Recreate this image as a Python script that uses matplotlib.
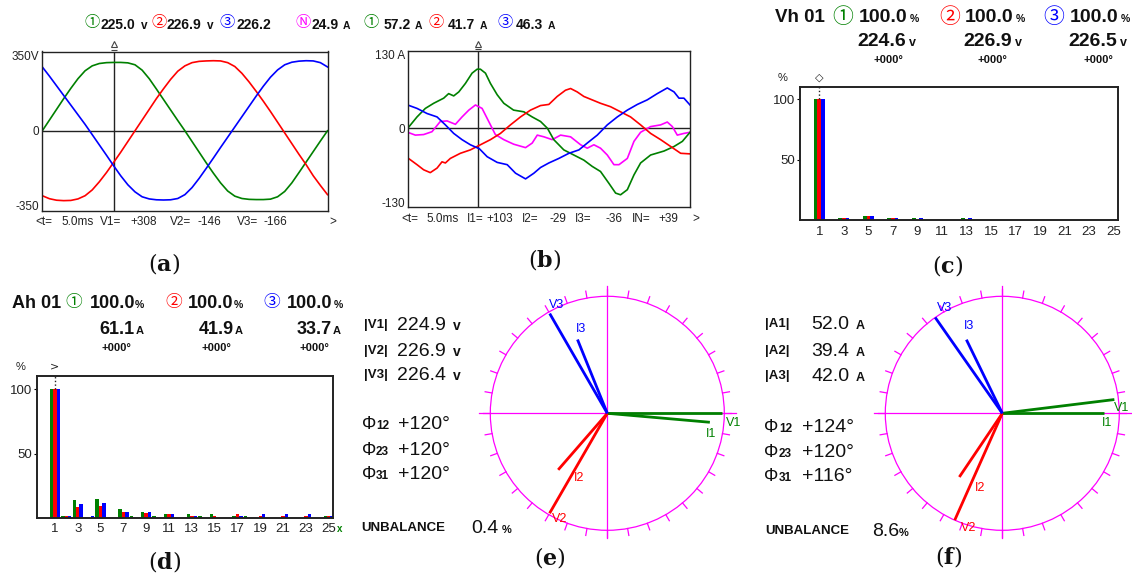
import numpy as np
import matplotlib
matplotlib.use('Agg')
import matplotlib.pyplot as plt
from matplotlib.patches import Circle
from matplotlib.transforms import blended_transform_factory

W, H = 1132, 581

GREEN = '#008000'
RED = '#ff0000'
BLUE = '#0000ff'
MAGENTA = '#ff00ff'
INK = '#111111'

SANS = ['Liberation Sans', 'DejaVu Sans']
RINGS = ['Noto Sans CJK JP', 'DejaVu Sans']

plt.rcParams['font.family'] = SANS
plt.rcParams['mathtext.fontset'] = 'dejavuserif'

# (a) phase voltages over one cycle (ms, V)
t_v = [0, 0.5, 1, 1.5, 2, 2.5, 3, 3.5, 4, 4.5, 5, 5.5, 6, 6.5, 7, 7.5, 8, 8.5, 9, 9.5,
       10, 10.5, 11, 11.5, 12, 12.5, 13, 13.5, 14, 14.5, 15, 15.5, 16, 16.5, 17, 17.5,
       18, 18.5, 19, 19.5, 20]
v1 = [0, 50, 100, 150, 198, 243, 280, 303, 314, 318, 319, 319, 317, 308, 283, 243,
      195, 146, 97, 48, 0, -50, -100, -150, -198, -243, -281, -305, -316, -320, -321,
      -321, -319, -308, -283, -243, -195, -146, -97, -48, 0]
v2 = [-303, -317, -324, -326, -325, -318, -303, -276, -238, -195, -148, -100, -50, 0,
      50, 100, 150, 196, 240, 278, 303, 318, 324, 326, 327, 326, 318, 300, 268, 228,
      184, 138, 90, 40, -10, -60, -110, -158, -210, -255, -298]
v3 = [298, 255, 210, 165, 120, 75, 30, -18, -66, -114, -163, -210, -252, -285, -308,
      -318, -322, -323, -322, -316, -298, -265, -222, -175, -127, -78, -30, 18, 66,
      114, 162, 208, 250, 284, 308, 320, 325, 327, 326, 318, 298]
v_rms = ['225.0', '226.9', '226.2']
v_cursor = ['+308', '-146', '-166']

# (b) line and neutral currents (ms, A)
t_i1 = [0, 0.66, 1.25, 1.84, 2.55, 2.9, 3.26, 3.62, 4.09, 4.56, 4.92, 5.15, 5.51, 5.86,
        6.34, 6.81, 7.5, 8.23, 8.82, 9.41, 9.9, 10.35, 11.06, 11.77, 12.48, 13.07,
        13.66, 14.26, 14.73, 15.08, 15.56, 16.03, 16.5, 17.21, 18.16, 18.87, 19.46, 20]
i1 = [0, 20, 35, 44, 53, 61, 57, 64, 79, 97, 104, 104, 97, 79, 59, 44, 32, 29, 20, 12,
      0, -20, -38, -47, -56, -67, -76, -97, -114, -117, -108, -82, -61, -47, -40, -32,
      -23, -7]
t_i2 = [0, 0.66, 1.13, 1.6, 2.08, 2.43, 2.67, 3.02, 3.73, 4.44, 5.15, 5.86, 6.57, 7.28,
        7.99, 8.7, 9.41, 10.0, 10.59, 11.18, 11.54, 12.01, 12.48, 13.07, 13.66, 14.37,
        15.08, 15.79, 16.5, 17.21, 17.92, 18.63, 19.34, 20]
i2 = [-52, -64, -73, -78, -70, -59, -61, -53, -44, -38, -29, -20, -9, 6, 20, 32, 40, 42,
      56, 67, 70, 64, 56, 50, 44, 38, 29, 20, 6, -9, -20, -32, -44, -45]
t_i3 = [0, 0.66, 1.37, 2.08, 2.67, 3.26, 3.85, 4.44, 5.08, 5.63, 6.34, 7.05, 7.64, 8.35,
        8.94, 9.41, 10.0, 10.71, 11.42, 12.13, 12.72, 13.43, 14.14, 14.85, 15.56, 16.27,
        16.97, 17.68, 18.39, 18.87, 19.22, 19.57, 20]
i3 = [41, 35, 26, 20, 6, -9, -20, -29, -36, -50, -60, -64, -79, -89, -79, -69, -61, -53,
      -44, -38, -26, -12, 6, 20, 32, 42, 50, 61, 71, 64, 53, 53, 41]
t_in = [0, 0.54, 1.13, 1.72, 2.31, 2.79, 3.38, 3.85, 4.33, 4.8, 5.27, 5.74, 6.21, 6.81,
        7.51, 8.35, 8.82, 9.18, 9.65, 10.24, 10.83, 11.54, 12.25, 12.72, 13.19, 13.66,
        14.14, 14.61, 14.97, 15.56, 16.03, 16.5, 17.21, 17.92, 18.39, 18.75, 19.1,
        19.57, 20]
i_n = [-7, -12, -11, -6, 12, 13, 7, 20, 32, 41, 35, 12, -11, -20, -28, -34, -26, -12,
       -15, -20, -12, -15, -29, -35, -29, -35, -47, -64, -64, -53, -23, -7, 3, 6, 11, 3,
       -12, -9, -7]
i_rms = ['24.9', '57.2', '41.7', '46.3']   # N, 1, 2, 3
i_cursor = ['+103', '-29', '-36', '+39']   # I1, I2, I3, IN

# (c), (d) harmonic spectra, % of fundamental
harm = [1, 2, 3, 4, 5, 6, 7, 8, 9, 10, 11, 12, 13, 14, 15, 16, 17, 18, 19, 20, 21, 22,
        23, 24, 25]
vh_1 = [100, 0, 1.9, 0, 3.9, 0, 1.9, 0, 1.9, 0, 0, 0, 1.9, 0, 0, 0, 0, 0, 0, 0, 0, 0, 0, 0, 0]
vh_2 = [100, 0, 1.9, 0, 3.9, 0, 1.9, 0, 0, 0, 0, 0, 0, 0, 0, 0, 0, 0, 0, 0, 0, 0, 0, 0, 0]
vh_3 = [100, 0, 1.9, 0, 3.9, 0, 1.9, 0, 1.9, 0, 0, 0, 1.9, 0, 0, 0, 0, 0, 0, 0, 0, 0, 0, 0, 0]
vh_rms = ['224.6', '226.9', '226.5']
ah_1 = [100, 1.6, 13.8, 0, 14.8, 0, 6.5, 1.6, 4.4, 1.6, 2.6, 0, 2.6, 1.6, 2.6, 0, 1.6,
        1.6, 0, 0, 0, 0, 0, 0, 1.6]
ah_2 = [100, 1.6, 8.6, 0, 8.8, 0, 4.4, 0, 3.4, 0, 2.6, 0, 1.6, 0, 1.6, 0, 2.6, 0, 1.6,
        0, 1.6, 0, 1.6, 0, 1.6]
ah_3 = [100, 1.6, 10.7, 1.6, 11.7, 0, 4.4, 0, 4.4, 0, 2.6, 0, 1.6, 0, 0, 0, 1.6, 0, 2.6,
        0, 2.6, 0, 2.6, 0, 1.6]
ah_rms = ['61.1', '41.9', '33.7']

# (e) voltage phasors
e_vmag = [224.9, 226.9, 226.4]
e_phi = [120, 120, 120]
e_iang = [-5, 229, 112]
e_ilen = [0.88, 0.64, 0.68]
e_unbal = '0.4'
# (f) current phasors
f_amag = [52.0, 39.4, 42.0]
f_phi = [124, 120, 116]
f_vang = [7, 246, 125]
f_vlen = [0.965, 1.0, 1.0]
f_unbal = '8.6'

phase_colors = [GREEN, RED, BLUE]

fig = plt.figure(figsize=(W / 100, H / 100), dpi=100)


def px_axes(l, t, r, b):
    return fig.add_axes([l / W, 1 - b / H, (r - l) / W, (b - t) / H])


def put(x, y, s, size=9, weight='normal', color=INK, family=SANS, ha='left', va='baseline'):
    fig.text(x / W, 1 - y / H, s, fontsize=size, fontweight=weight, color=color,
             family=family, ha=ha, va=va)


def ring(x, y, s, color, size=11):
    put(x, y, s, size=size, color=color, family=RINGS, ha='center', va='center')


def scope(ax, ylim, ticks, labels):
    ax.set_xlim(0, 20)
    ax.set_ylim(*ylim)
    ax.set_xticks([])
    ax.set_yticks(ticks)
    ax.set_yticklabels(labels, fontsize=8.5, color='#222')
    ax.tick_params(axis='y', length=0, pad=2)
    for s in ax.spines.values():
        s.set_color('#222')
        s.set_linewidth(1)
    ax.axhline(0, color='#222', lw=1)
    ax.axvline(5, color='#222', lw=1)
    tr = blended_transform_factory(ax.transData, ax.transAxes)
    ax.plot([5], [1.045], marker='^', ms=4.5, mfc='none', mec='#444', mew=0.8,
            transform=tr, clip_on=False)
    ax.plot([5], [1.012], marker='_', ms=5, mec='#444', mew=0.8, transform=tr,
            clip_on=False)


def spectrum(ax, g, r, b, top, mark):
    hx = np.array(harm)
    w = 0.3
    ax.bar(hx - w, g, w, color=GREEN, linewidth=0)
    ax.bar(hx, r, w, color=RED, linewidth=0)
    ax.bar(hx + w, b, w, color=BLUE, linewidth=0)
    ax.set_xlim(-0.6, 25.35)
    ax.set_ylim(0, top)
    ax.set_xticks(harm[::2])
    ax.set_xticklabels([str(h) for h in harm[::2]], fontsize=9.5, color='#222')
    ax.set_yticks([50, 100])
    ax.set_yticklabels(['50', '100'], fontsize=9.5, color='#222')
    ax.tick_params(axis='x', length=0, pad=4)
    ax.tick_params(axis='y', length=2.5, width=0.8, pad=0.5)
    for s in ax.spines.values():
        s.set_color('#222')
        s.set_linewidth(1.4)
    ax.plot([1, 1], [100, top], ls=':', color='#222', lw=1)
    tr = blended_transform_factory(ax.transData, ax.transAxes)
    ax.text(1, 1.03, mark, transform=tr, ha='center', va='bottom', fontsize=8,
            color='#222', family=['DejaVu Sans'])
    ax.text(-0.055, 1.03, '%', transform=ax.transAxes, ha='center', va='bottom',
            fontsize=8, color='#222')


def phasor_axes(cx, cy, r_px):
    half = 1.25 * r_px
    ax = px_axes(cx - half, cy - half, cx + half, cy + half)
    ax.set_xlim(-1.25, 1.25)
    ax.set_ylim(-1.25, 1.25)
    ax.axis('off')
    ax.patch.set_alpha(0)
    ax.add_patch(Circle((0, 0), 1.0, fill=False, ec=MAGENTA, lw=0.9))
    ax.plot([-1.1, 1.1], [0, 0], color=MAGENTA, lw=0.9)
    ax.plot([0, 0], [-1.07, 1.09], color=MAGENTA, lw=0.9)
    for a in np.radians(np.arange(0, 360, 10)):
        ax.plot([np.cos(a), 1.06 * np.cos(a)], [np.sin(a), 1.06 * np.sin(a)],
                color=MAGENTA, lw=0.9)
    return ax


def vector(ax, ang, length, color, label, off):
    a = np.radians(ang)
    x, y = length * np.cos(a), length * np.sin(a)
    ax.plot([0, x], [0, y], color=color, lw=2, solid_capstyle='butt')
    ax.text(x + off[0], y + off[1], label, color=color, fontsize=9,
            ha='center', va='center')


# ---------------- (a) voltage waveforms
ax_a = px_axes(42.3, 51.5, 327.5, 210.5)
scope(ax_a, (-372, 370), [350, 0, -350], ['350V', '0', '-350'])
for tv, col in zip([v1, v2, v3], phase_colors):
    ax_a.plot(t_v, tv, color=col, lw=1.2)

for (xc, xn, xu), val, col, ch in zip([(92, 135, 144), (159, 201.7, 210.7), (227.5, 270.7, None)],
                                    v_rms, phase_colors, ['\u2460', '\u2461', '\u2462']):
    ring(xc, 23, ch, col)
    put(xn, 29, val, size=10, weight='bold', ha='right')
    if xu:
        put(xu, 29, 'v', size=8.5, weight='bold', ha='center')

put(35, 225, '<t=', size=8.5, color='#222')
put(61, 225, '5.0ms', size=8.5, color='#222')
for xl, xv, name, val in zip([100, 170, 237], [130, 197, 263], ['V1=', 'V2=', 'V3='], v_cursor):
    put(xl, 225, name, size=8.5, color='#222')
    put(xv, 225, val, size=8.5, color='#222')
put(329, 225, '>', size=8.5, color='#222')

# ---------------- (b) current waveforms
ax_b = px_axes(407.7, 51, 690, 207.3)
scope(ax_b, (-139, 136), [130, 0, -130], ['130 A', '0', '-130'])
ax_b.plot(t_in, i_n, color=MAGENTA, lw=1.2)
ax_b.plot(t_i1, i1, color=GREEN, lw=1.2)
ax_b.plot(t_i2, i2, color=RED, lw=1.2)
ax_b.plot(t_i3, i3, color=BLUE, lw=1.2)

for (xc, xn, xu), val, col, ch in zip([(302.7, 339, 346.7), (370.7, 410.5, 418.3),
                                      (436, 475.5, 483.3), (505, 543.5, 551.7)],
                                     i_rms, [MAGENTA, GREEN, RED, BLUE],
                                     ['\u24c3', '\u2460', '\u2461', '\u2462']):
    ring(xc, 23, ch, col)
    put(xn, 29, val, size=10, weight='bold', ha='right')
    put(xu, 29, 'A', size=7.5, weight='bold', ha='center')

put(401.7, 222, '<t=', size=8.5, color='#222')
put(426, 222, '5.0ms', size=8.5, color='#222')
for xl, xv, name, val in zip([466.7, 521.7, 575, 631.7], [486.7, 550, 605, 658.3],
                             ['I1=', 'I2=', 'I3=', 'IN='], i_cursor):
    put(xl, 222, name, size=8.5, color='#222')
    put(xv, 222, val, size=8.5, color='#222')
put(692, 222, '>', size=8.5, color='#222')

# ---------------- (c) voltage harmonics
ax_c = px_axes(799.7, 87, 1118, 220.3)
spectrum(ax_c, vh_1, vh_2, vh_3, 110.2, '\u25c7')
put(775, 22.5, 'Vh 01', size=13.5, weight='bold')
for xc, xn, xp, xv, xu, xd, val, col, ch in zip(
        [842.7, 949.3, 1053.3], [858.3, 965, 1070], [914, 1020.7, 1125.7],
        [857.3, 963.3, 1068.3], [912.3, 1018.3, 1123.3], [873.3, 977.7, 1083.3],
        vh_rms, phase_colors, ['\u2460', '\u2461', '\u2462']):
    ring(xc, 17, ch, col, size=15)
    put(xn, 22.5, '100.0', size=14, weight='bold')
    put(xp, 22.5, '%', size=7.5, weight='bold', ha='center')
    put(xv, 46.5, val, size=14, weight='bold')
    put(xu, 46.5, 'v', size=9, weight='bold', ha='center')
    put(xd, 60, '+000\u00b0', size=8, weight='bold', va='center')

# ---------------- (d) current harmonics
ax_d = px_axes(36.7, 376, 332.7, 517.7)
spectrum(ax_d, ah_1, ah_2, ah_3, 110.4, '>')
put(340, 529.5, 'x', size=7, weight='bold', color=GREEN, ha='center', va='center')
put(11.7, 308.5, 'Ah 01', size=13, weight='bold')
for xc, xn, xp, xv, xu, xd, val, col, ch in zip(
        [74, 173.3, 271.7], [90, 188.3, 286.7], [139.3, 238.3, 338.3],
        [99.3, 198.3, 296.7], [140, 238.3, 336.7], [101.7, 201, 300],
        ah_rms, phase_colors, ['\u2460', '\u2461', '\u2462']):
    ring(xc, 303, ch, col, size=12)
    put(xn, 308.5, '100.0', size=13, weight='bold')
    put(xp, 308.5, '%', size=7.5, weight='bold', ha='center')
    put(xv, 334, val, size=13, weight='bold')
    put(xu, 334, 'A', size=8, weight='bold', ha='center')
    put(xd, 348.3, '+000\u00b0', size=8, weight='bold', va='center')

# ---------------- (e) voltage phasor diagram
ax_e = phasor_axes(607.3, 413.3, 117)
e_vang = [0, -e_phi[0], -e_phi[0] - e_phi[1]]
for k in range(3):
    vector(ax_e, e_iang[k], e_ilen[k], phase_colors[k], 'I%d' % (k + 1),
           [(0.01, -0.10), (0.18, -0.07), (0.03, 0.09)][k])
    vector(ax_e, e_vang[k], e_vmag[k] / 230, phase_colors[k], 'V%d' % (k + 1),
           [(0.10, -0.08), (0.09, -0.05), (0.06, 0.075)][k])

for k, y in enumerate([324, 350, 374]):
    put(388, y + 4, '|V%d|' % (k + 1), size=9.5, weight='bold', ha='right')
    put(396.7, y + 6, '%.1f' % e_vmag[k], size=14)
    put(457.3, y + 6, 'v', size=10, weight='bold', ha='center')
for k, y in enumerate([423.3, 449, 473.3]):
    put(369.5, y + 6, '\u03a6', size=13, ha='center')
    put(376, y + 6, ['12', '23', '31'][k], size=8.5, weight='bold')
    put(398.3, y + 6, '+%d\u00b0' % e_phi[k], size=14)
put(445, 531, 'UNBALANCE', size=9.5, weight='bold', ha='right')
put(471.7, 533, e_unbal, size=14)
put(506.7, 533, '%', size=8, weight='bold', ha='center')

# ---------------- (f) current phasor diagram
ax_f = phasor_axes(1002.3, 413.3, 117)
f_iang = [0, -f_phi[0], -f_phi[0] - f_phi[1]]
for k in range(3):
    vector(ax_f, f_vang[k], f_vlen[k], phase_colors[k], 'V%d' % (k + 1),
           [(0.06, -0.075), (0.12, -0.07), (0.08, 0.08)][k])
    vector(ax_f, f_iang[k], f_amag[k] / 60, phase_colors[k], 'I%d' % (k + 1),
           [(0.03, -0.08), (0.18, -0.09), (0.02, 0.12)][k])

for k, y in enumerate([323.3, 350, 375]):
    put(765, y + 4, '|A%d|' % (k + 1), size=9.5, weight='bold')
    put(811, y + 6, '%.1f' % f_amag[k], size=14)
    put(860, y + 6, 'A', size=9, weight='bold', ha='center')
for k, y in enumerate([425.7, 450.7, 475]):
    put(771.5, y + 6, '\u03a6', size=13, ha='center')
    put(779, y + 6, ['12', '23', '31'][k], size=8.5, weight='bold')
    put(801.7, y + 6, '+%d\u00b0' % f_phi[k], size=14)
put(765, 534, 'UNBALANCE', size=9.5, weight='bold')
put(871.7, 536, f_unbal, size=14)
put(904, 536, '%', size=8, weight='bold', ha='center')

# panel letters
for x, y, s in [(164, 263, 'a'), (545, 259, 'b'), (947.5, 266, 'c'),
                (165, 561, 'd'), (550, 558, 'e'), (948.3, 556.5, 'f')]:
    fig.text(x / W, 1 - y / H, r'$(\mathbf{%s})$' % s, fontsize=16, ha='center',
             va='center', color='#111')

fig.savefig('out.png', dpi=100)
